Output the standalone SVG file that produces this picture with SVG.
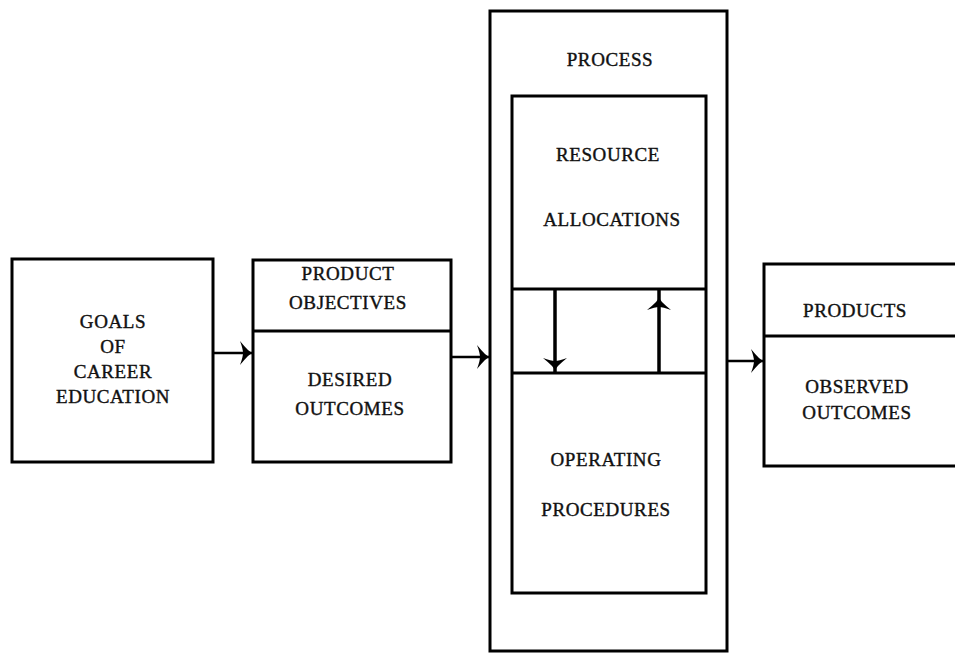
<svg xmlns="http://www.w3.org/2000/svg" width="955" height="656" viewBox="0 0 955 656">
<style>
.box{fill:none;stroke:#000;stroke-width:3}
.div{stroke:#000;stroke-width:3}
.lbl{font-family:"Liberation Serif","DejaVu Serif",serif;font-size:19px;fill:#111;stroke:#111;stroke-width:0.4;text-anchor:middle;letter-spacing:0.6px}
.con{stroke:#000;stroke-width:2.5;fill:none}
.vcon{stroke:#000;stroke-width:3.5;fill:none}
.head{fill:#000}
</style>
<defs>
<path id="ah" d="M0,0 L-4,-3 Q-8,-7 -12,-12 Q-9,-4 -9,0 Q-9,4 -12,12 Q-8,7 -4,3 Z"/>
</defs>
<rect width="955" height="656" fill="#fff"/>
<g id="goals">
<rect class="box" x="12" y="259" width="201" height="203"/>
<text class="lbl" x="113" y="328">GOALS</text>
<text class="lbl" x="113" y="353">OF</text>
<text class="lbl" x="113" y="378">CAREER</text>
<text class="lbl" x="113" y="403">EDUCATION</text>
</g>
<g id="objectives">
<rect class="box" x="253" y="260" width="198" height="202"/>
<line class="div" x1="253" y1="331" x2="451" y2="331"/>
<text class="lbl" x="348" y="280">PRODUCT</text>
<text class="lbl" x="348" y="309">OBJECTIVES</text>
<text class="lbl" x="350" y="386">DESIRED</text>
<text class="lbl" x="350" y="415">OUTCOMES</text>
</g>
<g id="process">
<rect class="box" x="490" y="11" width="237" height="640"/>
<text class="lbl" x="610" y="66">PROCESS</text>
</g>
<g id="resources">
<rect class="box" x="512" y="96" width="194" height="497"/>
<line class="div" x1="512" y1="289" x2="706" y2="289"/>
<line class="div" x1="512" y1="373" x2="706" y2="373"/>
<text class="lbl" x="608" y="161">RESOURCE</text>
<text class="lbl" x="612" y="226">ALLOCATIONS</text>
<text class="lbl" x="606" y="466">OPERATING</text>
<text class="lbl" x="606" y="516">PROCEDURES</text>
</g>
<g id="products">
<rect class="box" x="764" y="264" width="200" height="202"/>
<line class="div" x1="764" y1="336" x2="955" y2="336"/>
<text class="lbl" x="855" y="317">PRODUCTS</text>
<text class="lbl" x="857" y="393">OBSERVED</text>
<text class="lbl" x="857" y="419">OUTCOMES</text>
</g>
<g id="connectors">
<line class="con" x1="213" y1="353" x2="252" y2="353"/>
<use href="#ah" class="head" transform="translate(252,353)"/>
<line class="con" x1="451" y1="357" x2="489" y2="357"/>
<use href="#ah" class="head" transform="translate(489,357)"/>
<line class="con" x1="727" y1="361" x2="763" y2="361"/>
<use href="#ah" class="head" transform="translate(763,361)"/>
<line class="vcon" x1="555" y1="289" x2="555" y2="373"/>
<use href="#ah" class="head" transform="translate(555,370) rotate(90)"/>
<line class="vcon" x1="659" y1="373" x2="659" y2="289"/>
<use href="#ah" class="head" transform="translate(659,298) rotate(-90)"/>
</g>
</svg>
